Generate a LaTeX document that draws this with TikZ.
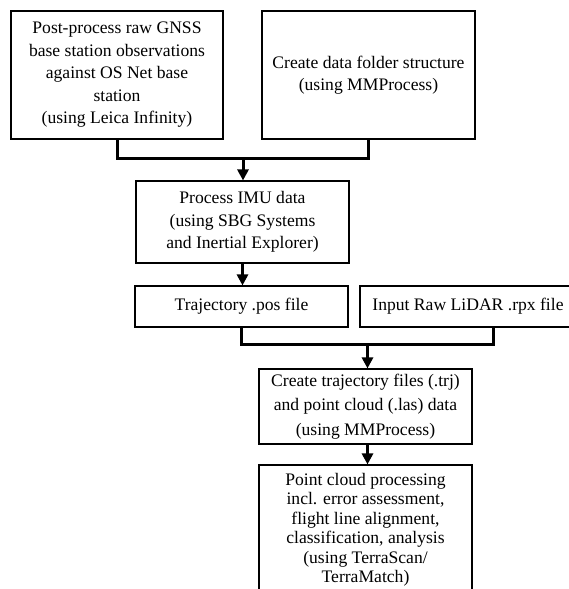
\documentclass[tikz,border=0pt]{standalone}
\usepackage{fontspec}
\setmainfont{Liberation Serif}
\usetikzlibrary{arrows.meta}
\begin{document}
\begin{tikzpicture}[x=1pt,y=-1pt,
  box/.style={draw=black,line width=1.1pt,align=center,inner sep=0pt,
    font=\fontsize{17.6}{22.5}\selectfont},
  conn/.style={line width=3pt,line join=miter},
  arr/.style={line width=3pt,-{Triangle[width=11pt,length=11pt]}}]
\useasboundingbox (0,0) rectangle (569,589);
\node[box,minimum width=212pt,minimum height=128pt] (b1) at (117,75)
  {Post-process raw GNSS\\base station observations\\against OS Net base\\station\\(using Leica Infinity)};
\node[box,minimum width=213pt,minimum height=128pt] (b2) at (368.5,75)
  {Create data folder structure\\(using MMProcess)};
\node[box,minimum width=213pt,minimum height=82pt] (b3) at (242.5,222)
  {Process IMU data\\(using SBG Systems\\and Inertial Explorer)};
\node[box,minimum width=213pt,minimum height=41pt] (b4) at (241.5,306.5)
  {Trajectory .pos file};
\node[box,minimum width=216pt,minimum height=41pt] (b5) at (468,306.5)
  {Input Raw LiDAR .rpx file};
\node[box,minimum width=213pt,minimum height=75pt,font=\fontsize{17.6}{24.5}\selectfont] (b6) at (365.5,406.5)
  {Create trajectory files (.trj)\\and point cloud (.las) data\\(using MMProcess)};
\node[box,minimum width=213pt,minimum height=130pt,font=\fontsize{17.6}{19.5}\selectfont] (b7) at (365.5,530)
  {Point cloud processing\\incl. error assessment,\\flight line alignment,\\classification, analysis\\(using TerraScan/\\TerraMatch)};
\coordinate (j1) at (243,158);
\coordinate (j2) at (367.5,344);
\coordinate (b5o) at (493,327);
\draw[conn] (b1.south) |- (j1) -| (b2.south);
\draw[arr] (j1) -- (j1 |- b3.north);
\draw[arr] (b3.south) -- (b3.south |- b4.north);
\draw[conn] (b4.south) |- (j2) -| (b5o);
\draw[arr] (j2) -- (j2 |- b6.north);
\draw[arr] (b6.south -| j2) -- (j2 |- b7.north);
\end{tikzpicture}
\end{document}
